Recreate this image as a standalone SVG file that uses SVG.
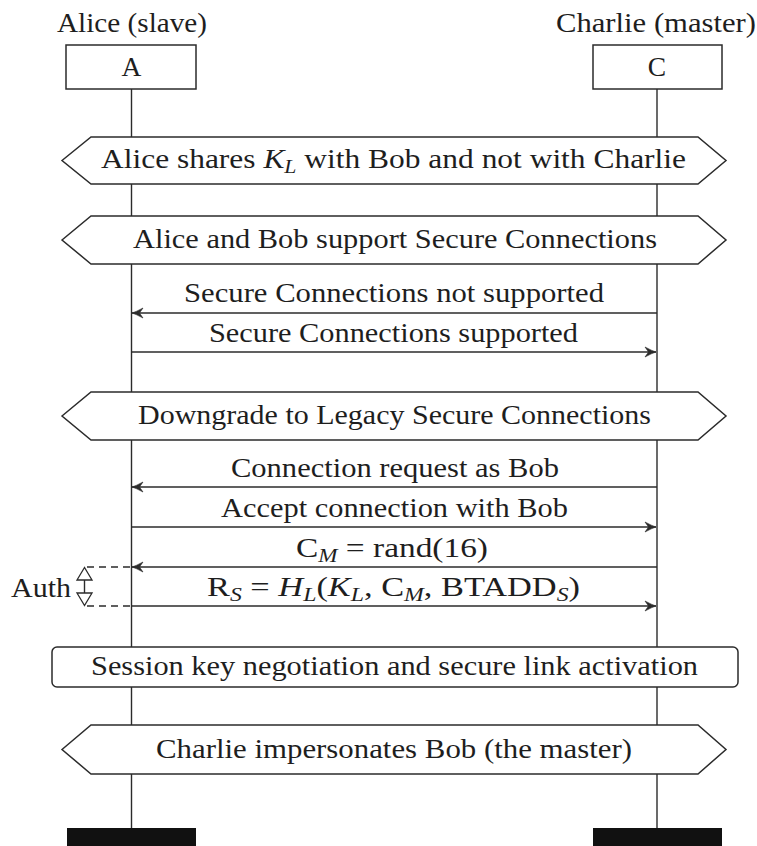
<svg xmlns="http://www.w3.org/2000/svg" width="757" height="846" viewBox="0 0 757 846">
<defs>
<style>
text{font-family:"Liberation Serif","Times New Roman",serif;font-size:27.5px;fill:#1e1e1e;text-anchor:middle}
.sub{font-size:19px}
.it{font-style:italic}
.ln{stroke:#2b2b2b;stroke-width:1.4;fill:none}
.box{stroke:#2b2b2b;stroke-width:1.5;fill:#fff}
.msg{stroke:#2b2b2b;stroke-width:1.5;fill:none;marker-end:url(#ah)}
.dash{stroke:#2b2b2b;stroke-width:1.4;fill:none;stroke-dasharray:7 5}
.bar{fill:#111}
</style>
<marker id="ah" viewBox="-13 -7 14 14" refX="0" refY="0" markerWidth="14" markerHeight="14" markerUnits="userSpaceOnUse" orient="auto">
<path d="M-11,-5 Q-4,-1.2 0,0 Q-4,1.2 -11,5 L-7.5,0 Z" fill="#2b2b2b" stroke="#2b2b2b" stroke-width="0.6" stroke-linejoin="round"/>
</marker>
</defs>

<g id="lifelines">
<line class="ln" x1="131.5" y1="89" x2="131.5" y2="828"/>
<line class="ln" x1="657" y1="89" x2="657" y2="828"/>
</g>

<g id="alice">
<text x="132" y="32" textLength="150" lengthAdjust="spacingAndGlyphs">Alice (slave)</text>
<rect class="box" x="66" y="45" width="130" height="44"/>
<text x="131.5" y="76">A</text>
<rect class="bar" x="67" y="828" width="129" height="18"/>
</g>

<g id="charlie">
<text x="656" y="32" textLength="200" lengthAdjust="spacingAndGlyphs">Charlie (master)</text>
<rect class="box" x="593" y="45" width="129" height="44"/>
<text x="657" y="76">C</text>
<rect class="bar" x="593" y="828" width="129" height="18"/>
</g>

<g id="state1">
<path class="box" d="M62,160.5 L91,137 L698,137 L726,160.5 L698,184 L91,184 Z"/>
<text x="393.5" y="168" textLength="585" lengthAdjust="spacingAndGlyphs">Alice shares <tspan class="it">K</tspan><tspan class="it sub" dy="5">L</tspan><tspan dy="-5"> with Bob and not with Charlie</tspan></text>
</g>

<g id="state2">
<path class="box" d="M62,240 L91,216 L698,216 L726,240 L698,264 L91,264 Z"/>
<text x="395" y="248" textLength="524" lengthAdjust="spacingAndGlyphs">Alice and Bob support Secure Connections</text>
</g>

<g id="state3">
<path class="box" d="M62,416 L91,392 L698,392 L726,416 L698,440 L91,440 Z"/>
<text x="394.5" y="424" textLength="513" lengthAdjust="spacingAndGlyphs">Downgrade to Legacy Secure Connections</text>
</g>

<g id="session">
<rect class="box" x="52" y="647" width="686" height="40" rx="5" ry="5"/>
<text x="394.5" y="675" textLength="607" lengthAdjust="spacingAndGlyphs">Session key negotiation and secure link activation</text>
</g>

<g id="state4">
<path class="box" d="M62,749.5 L91,725 L698,725 L726,749.5 L698,774 L91,774 Z"/>
<text x="394" y="758" textLength="476" lengthAdjust="spacingAndGlyphs">Charlie impersonates Bob (the master)</text>
</g>

<g id="auth">
<text x="41" y="597" textLength="60" lengthAdjust="spacingAndGlyphs">Auth</text>
<path class="dash" d="M87,567 H131"/>
<path class="dash" d="M87,606 H131"/>
<path class="ln" d="M84.5,580 V593"/>
<path class="box" d="M84.5,567.5 L77,580 L92,580 Z" style="stroke-width:1.3"/>
<path class="box" d="M84.5,605.5 L77,593 L92,593 Z" style="stroke-width:1.3"/>
</g>

<g id="connectors">
<g id="m1">
<line class="msg" x1="657" y1="313" x2="132" y2="313"/>
<text x="394" y="302" textLength="420" lengthAdjust="spacingAndGlyphs">Secure Connections not supported</text>
</g>
<g id="m2">
<line class="msg" x1="131.5" y1="352" x2="656" y2="352"/>
<text x="393.5" y="342" textLength="369" lengthAdjust="spacingAndGlyphs">Secure Connections supported</text>
</g>
<g id="m3">
<line class="msg" x1="657" y1="487" x2="132" y2="487"/>
<text x="395" y="477" textLength="328" lengthAdjust="spacingAndGlyphs">Connection request as Bob</text>
</g>
<g id="m4">
<line class="msg" x1="131.5" y1="527" x2="656" y2="527"/>
<text x="394.5" y="517" textLength="347" lengthAdjust="spacingAndGlyphs">Accept connection with Bob</text>
</g>
<g id="m5">
<line class="msg" x1="657" y1="567" x2="132" y2="567"/>
<text x="392" y="557" textLength="192" lengthAdjust="spacingAndGlyphs">C<tspan class="it sub" dy="5">M</tspan><tspan dy="-5"> = rand(16)</tspan></text>
</g>
<g id="m6">
<line class="msg" x1="131.5" y1="606" x2="656" y2="606"/>
<text x="393.5" y="596" textLength="373" lengthAdjust="spacingAndGlyphs">R<tspan class="it sub" dy="5">S</tspan><tspan dy="-5"> = </tspan><tspan class="it">H</tspan><tspan class="it sub" dy="5">L</tspan><tspan dy="-5">(</tspan><tspan class="it">K</tspan><tspan class="it sub" dy="5">L</tspan><tspan dy="-5">, C</tspan><tspan class="it sub" dy="5">M</tspan><tspan dy="-5">, BTADD</tspan><tspan class="it sub" dy="5">S</tspan><tspan dy="-5">)</tspan></text>
</g>
</g>
</svg>
